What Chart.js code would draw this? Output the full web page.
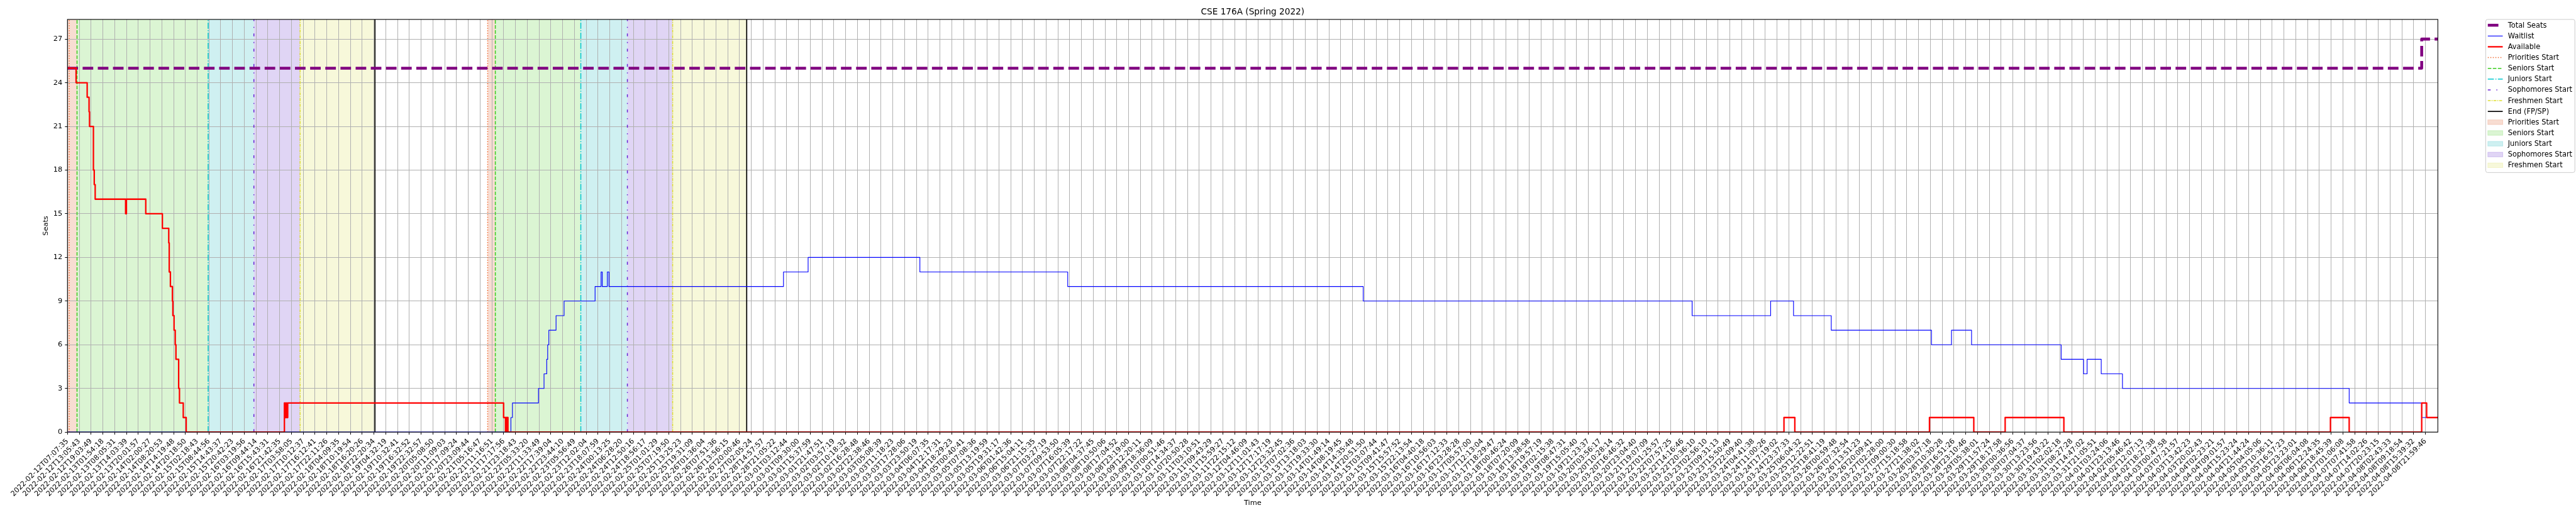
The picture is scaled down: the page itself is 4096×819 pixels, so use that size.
<!DOCTYPE html>
<html><head><meta charset="utf-8">
<script src="https://cdn.jsdelivr.net/npm/chart.js@4.4.1/dist/chart.umd.min.js"></script>
<style>html,body{margin:0;padding:0;background:#fff;overflow:hidden}canvas{display:block}</style>
</head><body>
<canvas id="c" width="4096" height="819"></canvas>
<script>
// ---------------- DATA ----------------
const TITLE = 'CSE 176A (Spring 2022)';
const X_TITLE = 'Time';
const Y_TITLE = 'Seats';
const X_TICK_LABELS = [
'2022-02-12T07:07:35','2022-02-12T13:05:43','2022-02-12T19:03:49','2022-02-13T01:54:18','2022-02-13T08:05:31',
'2022-02-13T14:03:39','2022-02-13T20:01:57','2022-02-14T02:00:27','2022-02-14T08:20:53','2022-02-14T14:19:48',
'2022-02-14T20:18:50','2022-02-15T02:18:43','2022-02-15T08:44:56','2022-02-15T14:43:37','2022-02-15T20:42:23',
'2022-02-16T03:19:56','2022-02-16T09:44:14','2022-02-16T15:43:31','2022-02-16T21:42:35','2022-02-17T03:58:05',
'2022-02-17T10:12:37','2022-02-17T16:12:41','2022-02-17T22:11:26','2022-02-18T04:09:35','2022-02-18T10:19:54',
'2022-02-18T16:20:26','2022-02-18T22:20:34','2022-02-19T04:32:19','2022-02-19T10:32:41','2022-02-19T16:32:52',
'2022-02-19T22:32:57','2022-02-20T05:08:50','2022-02-20T11:09:03','2022-02-20T17:09:24','2022-02-20T23:09:44',
'2022-02-21T05:16:47','2022-02-21T11:16:51','2022-02-21T17:17:56','2022-02-21T23:18:43','2022-02-22T05:33:20',
'2022-02-22T11:33:49','2022-02-22T17:39:04','2022-02-22T23:44:10','2022-02-23T05:56:49','2022-02-23T12:02:04',
'2022-02-23T18:07:59','2022-02-24T00:13:25','2022-02-24T06:28:20','2022-02-24T12:50:16','2022-02-24T18:56:17',
'2022-02-25T01:01:29','2022-02-25T07:19:50','2022-02-25T13:25:23','2022-02-25T19:31:09','2022-02-26T01:36:04',
'2022-02-26T07:51:36','2022-02-26T13:56:15','2022-02-26T20:00:46','2022-02-27T02:05:24','2022-02-28T14:57:57',
'2022-02-28T21:05:22','2022-03-01T03:12:44','2022-03-01T09:30:00','2022-03-01T15:37:59','2022-03-01T21:47:51',
'2022-03-02T03:57:19','2022-03-02T10:18:32','2022-03-02T16:28:48','2022-03-02T22:38:46','2022-03-03T05:08:39',
'2022-03-03T11:18:23','2022-03-03T17:28:06','2022-03-03T23:50:19','2022-03-04T06:07:35','2022-03-04T12:17:31',
'2022-03-04T18:29:23','2022-03-05T00:40:41','2022-03-05T07:08:36','2022-03-05T13:19:59','2022-03-05T19:31:17',
'2022-03-06T01:42:36','2022-03-06T15:04:11','2022-03-06T21:15:35','2022-03-07T03:27:19','2022-03-07T09:53:50',
'2022-03-07T16:05:39','2022-03-07T22:17:22','2022-03-08T04:37:45','2022-03-08T10:50:06','2022-03-08T17:04:52',
'2022-03-08T23:19:00','2022-03-09T12:20:11','2022-03-09T18:36:09','2022-03-10T00:51:46','2022-03-10T14:34:37',
'2022-03-10T20:50:28','2022-03-11T03:10:51','2022-03-11T09:43:29','2022-03-11T15:59:27','2022-03-11T22:15:12',
'2022-03-12T04:46:09','2022-03-12T11:01:43','2022-03-12T17:17:19','2022-03-12T23:32:45','2022-03-13T07:02:36',
'2022-03-13T13:18:03','2022-03-13T19:33:30','2022-03-14T01:49:14','2022-03-14T08:19:45','2022-03-14T14:35:48',
'2022-03-14T20:51:50','2022-03-15T03:07:44','2022-03-15T09:41:47','2022-03-15T15:57:52','2022-03-15T22:13:54',
'2022-03-16T04:40:18','2022-03-16T10:56:03','2022-03-16T17:12:33','2022-03-16T23:28:28','2022-03-17T05:57:00',
'2022-03-17T12:13:04','2022-03-17T18:29:47','2022-03-18T00:46:24','2022-03-18T07:20:09','2022-03-18T13:38:58',
'2022-03-18T19:57:19','2022-03-19T02:15:38','2022-03-19T08:47:31','2022-03-19T15:05:40','2022-03-19T21:23:37',
'2022-03-20T03:56:17','2022-03-20T10:28:14','2022-03-20T16:46:32','2022-03-20T23:04:40','2022-03-21T19:07:09',
'2022-03-22T01:25:57','2022-03-22T07:57:25','2022-03-22T14:16:46','2022-03-22T20:36:10','2022-03-23T02:56:10',
'2022-03-23T09:31:13','2022-03-23T15:50:49','2022-03-23T22:09:40','2022-03-24T04:41:38','2022-03-24T11:00:26',
'2022-03-24T17:19:02','2022-03-24T23:37:33','2022-03-25T06:04:32','2022-03-25T12:22:51','2022-03-25T18:41:19',
'2022-03-26T00:59:48','2022-03-26T07:32:54','2022-03-26T13:51:23','2022-03-26T20:09:41','2022-03-27T02:28:00',
'2022-03-27T09:00:30','2022-03-27T15:18:58','2022-03-27T21:38:02','2022-03-28T03:57:18','2022-03-28T10:30:28',
'2022-03-28T16:51:26','2022-03-28T23:10:46','2022-03-29T05:38:01','2022-03-29T11:57:24','2022-03-29T18:17:58',
'2022-03-30T00:36:56','2022-03-30T07:04:37','2022-03-30T13:23:56','2022-03-30T19:43:22','2022-03-31T02:02:18',
'2022-03-31T08:27:28','2022-03-31T14:47:02','2022-03-31T21:05:51','2022-04-01T03:24:06','2022-04-01T23:13:46',
'2022-04-02T05:46:42','2022-04-02T12:07:13','2022-04-02T18:27:38','2022-04-03T00:47:58','2022-04-03T07:21:57',
'2022-04-03T13:42:23','2022-04-03T20:02:43','2022-04-04T02:23:21','2022-04-04T09:01:57','2022-04-04T15:23:24',
'2022-04-04T21:44:24','2022-04-05T04:05:06','2022-04-05T10:36:11','2022-04-05T16:57:23','2022-04-05T23:23:01',
'2022-04-06T06:04:08','2022-04-06T12:24:35','2022-04-06T18:45:39','2022-04-07T01:06:08','2022-04-07T07:41:58',
'2022-04-07T14:02:26','2022-04-07T20:23:15','2022-04-08T02:43:33','2022-04-08T09:18:54','2022-04-08T15:39:32',
'2022-04-08T21:59:46'
];
// x positions are measured in tick-label units (0 = first label, 200 = last label)
const X_MAX = 201.05;
const Y_TICKS = [0, 3, 6, 9, 12, 15, 18, 21, 24, 27];
const Y_MAX = 28.35;

const TOTAL_X = [0, 199.68, 201.05];
const TOTAL_Y = [25, 27, 27];

const WAIT_X = [0, 37.61, 37.74, 39.95, 40.42, 40.65, 40.73, 40.83, 41.44, 42.12, 44.75, 45.26, 45.36, 45.79, 45.93,
  60.73, 62.82, 72.3, 84.84, 109.9, 137.8, 144.46, 146.4, 149.6, 158.1, 159.8, 161.5, 169.1, 171.0, 171.3, 172.5,
  174.3, 193.53, 199.68, 201.05];
const WAIT_Y = [0, 1, 2, 3, 4, 5, 6, 7, 8, 9, 10, 11, 10, 11, 10,
  11, 12, 11, 10, 9, 8, 9, 8, 7, 6, 7, 6, 5, 4, 5, 4,
  3, 2, 1, 1];

const AVAIL_X = [0, 0.73, 1.67, 1.83, 1.87, 2.20, 2.27, 2.35, 4.93, 5.00, 6.64, 8.05, 8.59, 8.63, 8.73, 8.90, 8.94,
  9.04, 9.14, 9.20, 9.43, 9.50, 9.82, 10.07, 18.40, 18.47, 18.55, 18.60, 18.68, 36.99, 37.15, 37.20, 37.25, 37.30,
  37.36, 145.59, 146.51, 157.93, 161.69, 164.35, 169.33, 191.94, 193.53, 199.68, 200.1, 201.05];
const AVAIL_Y = [25, 24, 23, 22, 21, 18, 17, 16, 15, 16, 15, 14, 13, 11, 10, 9, 8,
  7, 6, 5, 3, 2, 1, 0, 2, 1, 2, 1, 2, 1, 0, 1, 0, 1,
  0, 1, 0, 1, 0, 1, 0, 1, 0, 2, 1, 1];

const PHASE_NAMES = ['Priorities Start', 'Seniors Start', 'Juniors Start', 'Sophomores Start', 'Freshmen Start'];
const PASS1_X = [0.15, 0.81, 11.93, 15.81, 19.73];
const PASS2_X = [35.64, 36.29, 43.54, 47.49, 51.33];
const END_X = [26.08, 57.61];
const PASS1_SHADE_FROM = 0;   // first priority window shading begins at the axis start
const END_NAME = 'End (FP/SP)';
const SERIES_NAMES = ['Total Seats', 'Waitlist', 'Available'];

// ---------------- STYLE ----------------
const S = 0.819;
const PT = 100 / 72 * S;               // one point in pixels
const FONT = 'DejaVu Sans';
const FS = 10 * PT;                    // 10pt
const PLOT = { left: 131 * S, right: 4733 * S, top: 37.7 * S, bottom: 839 * S };
const W = 4096, H = 819;

const LW_TOTAL = 4 * PT, LW_WAIT = 1 * PT, LW_AVAIL = 2 * PT, LW_V = 1.33 * PT, LW_END = 1.5 * PT;
const PHASE_COLORS = ['rgb(240,108,52)', 'rgb(58,205,30)', 'rgb(0,200,208)', 'rgb(104,34,214)', 'rgb(222,222,50)'];
const SHADE_COLORS = ['rgba(220,85,30,0.2)', 'rgba(75,205,35,0.2)', 'rgba(15,180,185,0.2)', 'rgba(100,45,205,0.2)', 'rgba(215,220,70,0.2)'];
const PHASE_DASH = [
  [1 * LW_V, 1.65 * LW_V],
  [3.7 * LW_V, 1.6 * LW_V],
  [6.4 * LW_V, 1.6 * LW_V, 1 * LW_V, 1.6 * LW_V],
  [3 * LW_V, 6 * LW_V, 1 * LW_V, 6 * LW_V],
  [3 * LW_V, 1 * LW_V, 1 * LW_V, 1 * LW_V]
];
const TOTAL_DASH = [3.7 * LW_TOTAL, 1.6 * LW_TOTAL];

const pts = (xs, ys) => xs.map((x, i) => ({ x: x, y: ys[i] }));

// ---------------- PLUGINS ----------------
const background = {
  id: 'background',
  beforeDraw(chart) {
    const ctx = chart.ctx, a = chart.chartArea, xs = chart.scales.x;
    ctx.save();
    ctx.fillStyle = '#fff';
    ctx.fillRect(0, 0, chart.width, chart.height);
    ctx.beginPath(); ctx.rect(a.left, a.top, a.right - a.left, a.bottom - a.top); ctx.clip();
    [PASS1_X, PASS2_X].forEach((pass, p) => {
      const bounds = pass.concat([END_X[p]]);
      for (let k = 0; k < pass.length; k++) {
        const from = (p === 0 && k === 0) ? PASS1_SHADE_FROM : bounds[k];
        const x0 = xs.getPixelForValue(from), x1 = xs.getPixelForValue(bounds[k + 1]);
        ctx.fillStyle = SHADE_COLORS[k];
        ctx.fillRect(x0, a.top, x1 - x0, a.bottom - a.top);
      }
    });
    ctx.restore();
  }
};

const vlines = {
  id: 'vlines',
  beforeDatasetsDraw(chart) {
    const ctx = chart.ctx, a = chart.chartArea, xs = chart.scales.x;
    ctx.save();
    ctx.beginPath(); ctx.rect(a.left, a.top, a.right - a.left, a.bottom - a.top); ctx.clip();
    const line = (v, color, lw, dash) => {
      const x = xs.getPixelForValue(v);
      ctx.beginPath(); ctx.strokeStyle = color; ctx.lineWidth = lw; ctx.setLineDash(dash);
      ctx.moveTo(x, a.bottom); ctx.lineTo(x, a.top); ctx.stroke();
    };
    [PASS1_X, PASS2_X].forEach(pass => pass.forEach((v, k) => line(v, PHASE_COLORS[k], LW_V, PHASE_DASH[k])));
    END_X.forEach(v => line(v, '#000', LW_END, []));
    ctx.restore();
  }
};

const frame = {
  id: 'frame',
  afterDraw(chart) {
    const ctx = chart.ctx, a = chart.chartArea;
    ctx.save();
    ctx.strokeStyle = '#000'; ctx.lineWidth = 0.8 * PT * 1.2;
    ctx.strokeRect(a.left, a.top, a.right - a.left, a.bottom - a.top);
    // title
    ctx.fillStyle = '#000';
    ctx.font = (12 * PT).toFixed(2) + 'px "' + FONT + '"';
    ctx.textAlign = 'center'; ctx.textBaseline = 'alphabetic';
    ctx.fillText(TITLE, (a.left + a.right) / 2, a.top - 6 * PT - 1);
    // legend
    const L = { left: 4826 * S, top: 37.7 * S, right: 4999 * S, bottom: 335 * S,
                row0: 49 * S, step: 20.92 * S, h0: 4830 * S, h1: 4859 * S, tx: 4869 * S };
    ctx.beginPath();
    if (ctx.roundRect) ctx.roundRect(L.left, L.top, L.right - L.left, L.bottom - L.top, 3);
    else ctx.rect(L.left, L.top, L.right - L.left, L.bottom - L.top);
    ctx.fillStyle = 'rgba(255,255,255,0.8)'; ctx.fill();
    ctx.strokeStyle = '#cccccc'; ctx.lineWidth = 1; ctx.stroke();
    const entries = [];
    entries.push({ t: SERIES_NAMES[0], c: 'purple', lw: LW_TOTAL, d: TOTAL_DASH });
    entries.push({ t: SERIES_NAMES[1], c: '#0000ff', lw: LW_WAIT, d: [] });
    entries.push({ t: SERIES_NAMES[2], c: '#ff0000', lw: LW_AVAIL, d: [] });
    PHASE_NAMES.forEach((n, k) => entries.push({ t: n, c: PHASE_COLORS[k], lw: LW_V, d: PHASE_DASH[k] }));
    entries.push({ t: END_NAME, c: '#000', lw: LW_END, d: [] });
    PHASE_NAMES.forEach((n, k) => entries.push({ t: n, patch: SHADE_COLORS[k] }));
    ctx.font = FS.toFixed(2) + 'px "' + FONT + '"';
    ctx.textAlign = 'left'; ctx.textBaseline = 'middle';
    entries.forEach((e, i) => {
      const y = L.row0 + i * L.step;
      if (e.patch) {
        const ph = 9 * S;
        ctx.fillStyle = e.patch; ctx.fillRect(L.h0, y - ph / 2, L.h1 - L.h0, ph);
        ctx.strokeStyle = e.patch; ctx.lineWidth = 1; ctx.setLineDash([]);
        ctx.strokeRect(L.h0, y - ph / 2, L.h1 - L.h0, ph);
      } else {
        ctx.beginPath(); ctx.strokeStyle = e.c; ctx.lineWidth = e.lw; ctx.setLineDash(e.d);
        ctx.moveTo(L.h0, y); ctx.lineTo(L.h1, y); ctx.stroke();
        ctx.setLineDash([]);
      }
      ctx.fillStyle = '#000';
      ctx.fillText(e.t, L.tx, y + 0.5);
    });
    ctx.restore();
  }
};

// ---------------- CHART ----------------
const tickFont = { family: FONT, size: FS };
new Chart(document.getElementById('c'), {
  type: 'line',
  data: {
    datasets: [
      { label: SERIES_NAMES[2], data: pts(AVAIL_X, AVAIL_Y), borderColor: '#ff0000', borderWidth: LW_AVAIL,
        stepped: true, pointRadius: 0, fill: false, order: 0, borderJoinStyle: 'round' },
      { label: SERIES_NAMES[1], data: pts(WAIT_X, WAIT_Y), borderColor: '#0000ff', borderWidth: LW_WAIT,
        stepped: true, pointRadius: 0, fill: false, order: 1, borderJoinStyle: 'round' },
      { label: SERIES_NAMES[0], data: pts(TOTAL_X, TOTAL_Y), borderColor: 'purple', borderWidth: LW_TOTAL,
        borderDash: TOTAL_DASH, stepped: true, pointRadius: 0, fill: false, order: 2, borderJoinStyle: 'round' }
    ]
  },
  options: {
    responsive: false, animation: false, devicePixelRatio: 1,
    layout: { padding: { left: 0, top: PLOT.top, right: W - PLOT.right, bottom: 0 } },
    plugins: { legend: { display: false }, tooltip: { enabled: false }, title: { display: false } },
    scales: {
      x: {
        type: 'linear', min: 0, max: X_MAX,
        afterBuildTicks: s => { s.ticks = X_TICK_LABELS.map((_, i) => ({ value: i })); },
        afterFit: s => { s.height = H - PLOT.bottom; s.paddingLeft = 0; s.paddingRight = 0; },
        grid: { color: '#b0b0b0', lineWidth: 1, tickLength: 4, tickColor: '#000', tickWidth: 1, drawTicks: true },
        border: { display: false },
        ticks: { autoSkip: false, minRotation: 45, maxRotation: 45, padding: 4, color: '#000', font: tickFont,
                 callback: v => X_TICK_LABELS[v] },
        title: { display: true, text: X_TITLE, color: '#000', font: tickFont, padding: { top: 0, bottom: 12.5 } }
      },
      y: {
        type: 'linear', min: 0, max: Y_MAX,
        afterBuildTicks: s => { s.ticks = Y_TICKS.map(v => ({ value: v })); },
        afterFit: s => { s.width = PLOT.left; s.paddingTop = 0; s.paddingBottom = 0; },
        grid: { color: '#b0b0b0', lineWidth: 1, tickLength: 4, tickColor: '#000', tickWidth: 1, drawTicks: true },
        border: { display: false },
        ticks: { padding: 4, color: '#000', font: tickFont, callback: v => String(v) },
        title: { display: true, text: Y_TITLE, color: '#000', font: tickFont, padding: { top: 66, bottom: 0 } }
      }
    }
  },
  plugins: [background, vlines, frame]
});
</script>
</body></html>
